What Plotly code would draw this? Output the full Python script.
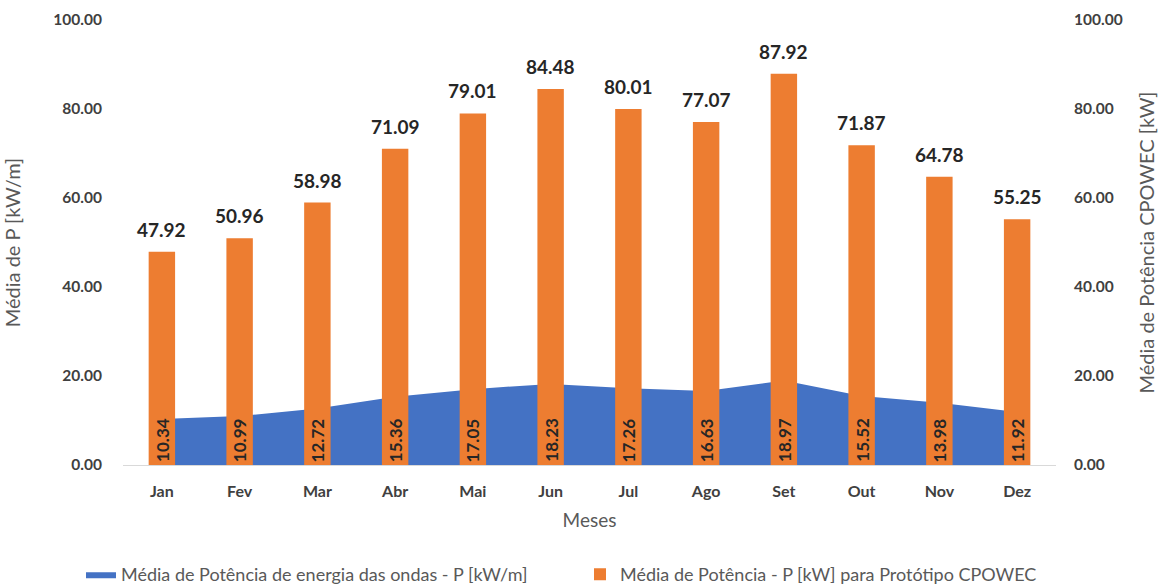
import plotly.graph_objects as go

meses = ["Jan", "Fev", "Mar", "Abr", "Mai", "Jun", "Jul", "Ago", "Set", "Out", "Nov", "Dez"]
potencia_ondas = [10.34, 10.99, 12.72, 15.36, 17.05, 18.23, 17.26, 16.63, 18.97, 15.52, 13.98, 11.92]
potencia_prototipo = [47.92, 50.96, 58.98, 71.09, 79.01, 84.48, 80.01, 77.07, 87.92, 71.87, 64.78, 55.25]

azul = "#4472C4"
laranja = "#ED7D31"
fonte = "Lato"
tick_cor = "#404040"
titulo_cor = "#595959"
rotulo_cor = "#262626"

fig = go.Figure()

fig.add_trace(go.Scatter(
    x=meses, y=potencia_ondas, mode="lines", fill="tozeroy",
    line=dict(color=azul, width=0), fillcolor=azul,
    name="Média de Potência de energia das ondas - P [kW/m]",
    yaxis="y", legend="legend",
))

fig.add_trace(go.Bar(
    x=meses, y=potencia_prototipo, marker=dict(color=laranja, line=dict(width=0)),
    width=0.34, name="Média de Potência - P [kW] para Protótipo CPOWEC",
    yaxis="y2", legend="legend2",
))

annotations = []
# vertical value labels for the wave-energy series, sitting at the base of each bar
for m, v in zip(meses, potencia_ondas):
    annotations.append(dict(
        x=m, y=0, xref="x", yref="y", text=f"<b>{v:.2f}</b>", textangle=-90,
        showarrow=False, xanchor="center", yanchor="bottom", yshift=1,
        font=dict(family=fonte, size=17, color=rotulo_cor),
    ))
# value labels above the prototype bars
for m, v in zip(meses, potencia_prototipo):
    annotations.append(dict(
        x=m, y=v, xref="x", yref="y2", text=f"<b>{v:.2f}</b>",
        showarrow=False, xanchor="center", yanchor="bottom", yshift=9,
        font=dict(family=fonte, size=19, color=rotulo_cor),
    ))

legenda_base = dict(orientation="h", xref="container", yref="container",
                    xanchor="left", y=0.016, yanchor="middle",
                    font=dict(family=fonte, size=18, color=titulo_cor),
                    itemwidth=30, bgcolor="rgba(0,0,0,0)")

fig.update_layout(
    width=1165, height=584,
    margin=dict(l=123, r=109, t=20, b=119, autoexpand=False),
    paper_bgcolor="white", plot_bgcolor="white",
    font=dict(family=fonte, color=tick_cor),
    showlegend=True,
    legend=dict(legenda_base, x=81 / 1165),
    legend2=dict(legenda_base, x=580 / 1165),
    xaxis=dict(
        showgrid=False, showline=True, linecolor="#D9D9D9", linewidth=1,
        ticks="", ticklabelstandoff=12, automargin=False,
        tickfont=dict(family=fonte, size=16, color=tick_cor),
        tickprefix="<b>", ticksuffix="</b>",
        title=dict(text="Meses", font=dict(family=fonte, size=19, color=titulo_cor), standoff=14),
        range=[-0.5, 11.5],
    ),
    yaxis=dict(
        range=[0, 100], dtick=20, tickformat=".2f", showgrid=False, zeroline=False,
        showline=False, ticks="", ticklabelstandoff=20, automargin=False,
        tickprefix="<b>", ticksuffix="</b>",
        tickfont=dict(family=fonte, size=15.5, color=tick_cor),
        title=dict(text="Média de P [kW/m]", font=dict(family=fonte, size=20, color=titulo_cor), standoff=27),
    ),
    yaxis2=dict(
        range=[0, 100], dtick=20, tickformat=".2f", showgrid=False, zeroline=False,
        overlaying="y", side="right", showline=False, ticks="",
        ticklabelstandoff=17, automargin=False,
        tickprefix="<b>", ticksuffix="</b>",
        tickfont=dict(family=fonte, size=15.5, color=tick_cor),
        title=dict(text="Média de Potência CPOWEC [kW]", font=dict(family=fonte, size=20, color=titulo_cor), standoff=18),
    ),
    annotations=annotations,
)

fig.write_html("out.html")
